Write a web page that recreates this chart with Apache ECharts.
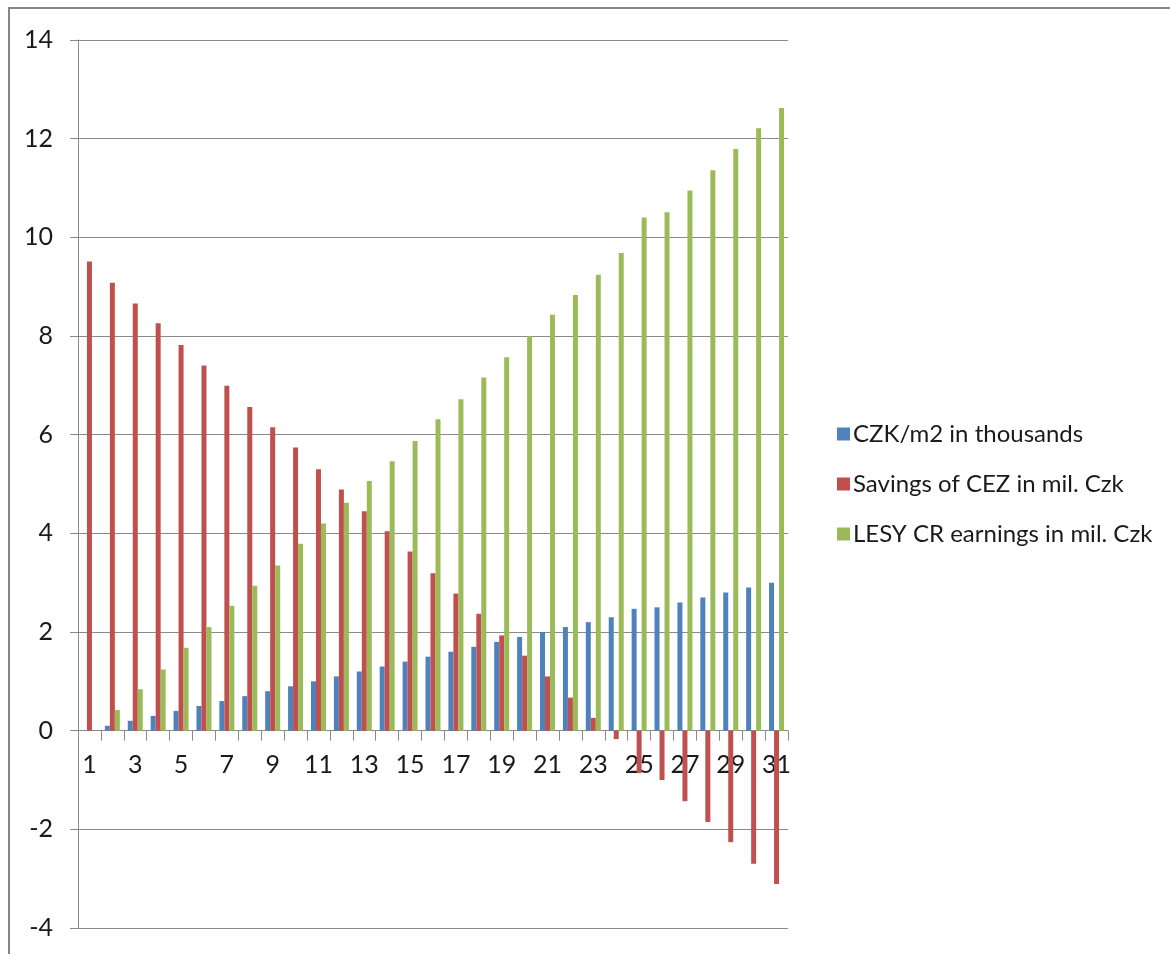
<!DOCTYPE html>
<html>
<head>
<meta charset="utf-8">
<script src="https://cdn.jsdelivr.net/npm/echarts@6/dist/echarts.min.js"></script>
<style>
  html, body { margin: 0; padding: 0; background: #fff; }
  #chart { width: 1170px; height: 954px; }
</style>
</head>
<body>
<div id="chart"></div>
<script>
// Categories 1..31
const categories = ['1','2','3','4','5','6','7','8','9','10','11','12','13','14','15','16','17','18','19','20','21','22','23','24','25','26','27','28','29','30','31'];

const seriesNames = ['CZK/m2 in thousands', 'Savings of CEZ in mil. Czk', 'LESY CR earnings in mil. Czk'];

const czkPerM2 = [0, 0.1, 0.2, 0.3, 0.4, 0.5, 0.6, 0.7, 0.8, 0.9, 1.0, 1.1, 1.2, 1.3, 1.4, 1.5,
  1.6, 1.7, 1.8, 1.9, 2.0, 2.1, 2.2, 2.3, 2.47, 2.5, 2.6, 2.7, 2.8, 2.9, 3.0];

const cezSavings = [9.51, 9.08, 8.66, 8.26, 7.82, 7.40, 6.99, 6.56, 6.15, 5.74, 5.30, 4.89, 4.45, 4.04,
  3.63, 3.19, 2.78, 2.37, 1.93, 1.52, 1.10, 0.67, 0.26, -0.17, -0.86, -1.00, -1.43, -1.85, -2.26, -2.70, -3.11];

const lesyEarnings = [0, 0.42, 0.84, 1.24, 1.68, 2.10, 2.53, 2.94, 3.35, 3.79, 4.20, 4.62, 5.06, 5.46,
  5.87, 6.31, 6.72, 7.16, 7.57, 8.00, 8.43, 8.83, 9.24, 9.68, 10.40, 10.51, 10.95, 11.36, 11.79, 12.21, 12.62];

const yMin = -4, yMax = 14, yStep = 2;

const colors = ['#4F81BD', '#C0504D', '#9BBB59'];
const FONT = 'Lato, "Open Sans", sans-serif';

const GRID_TOP = 40, GRID_BOTTOM = 26, CHART_H = 954;
// The category axis sits on the zero line: shift it up from the grid bottom by the
// height that the negative part of the value range takes.
const plotH = CHART_H - GRID_TOP - GRID_BOTTOM;
const zeroOffset = -plotH * (0 - yMin) / (yMax - yMin);

const chart = echarts.init(document.getElementById('chart'), null, { renderer: 'canvas' });

function barSeries(name, data, color) {
  return {
    name: name,
    type: 'bar',
    data: data,
    barWidth: 5,
    barGap: '0%',
    itemStyle: { color: color },
    z: 3
  };
}

chart.setOption({
  animation: false,
  backgroundColor: '#fff',
  color: colors,
  graphic: [{
    type: 'rect',
    shape: { x: 9, y: 8, width: 1300, height: 1100 },
    style: { fill: 'none', stroke: '#868686', lineWidth: 2 },
    silent: true,
    z: -1
  }],
  grid: { left: 78, right: 382, top: GRID_TOP, bottom: GRID_BOTTOM, containLabel: false, outerBoundsMode: 'none' },
  legend: {
    orient: 'vertical',
    left: 832,
    top: 417,
    itemWidth: 13,
    itemHeight: 13,
    itemGap: 26,
    icon: 'rect',
    data: seriesNames,
    textStyle: { fontFamily: FONT, fontSize: 24, color: '#1a1a1a', padding: [0, 0, 0, -2] }
  },
  xAxis: {
    type: 'category',
    position: 'bottom',
    offset: zeroOffset,
    data: categories,
    axisLine: { onZero: false, lineStyle: { color: '#8a8a8a', width: 1 } },
    axisTick: { show: true, interval: 0, alignWithLabel: false, length: 10, inside: false,
      lineStyle: { color: '#8a8a8a' } },
    axisLabel: { interval: 1, margin: 22, fontFamily: FONT, fontSize: 25, color: '#1a1a1a' },
    splitLine: { show: false }
  },
  yAxis: {
    type: 'value',
    min: yMin,
    max: yMax,
    interval: yStep,
    axisLine: { show: true, lineStyle: { color: '#8a8a8a', width: 1 } },
    axisTick: { show: true, length: 8, lineStyle: { color: '#8a8a8a' } },
    axisLabel: { margin: 25, fontFamily: FONT, fontSize: 25, color: '#1a1a1a' },
    splitLine: { show: true, lineStyle: { color: '#8a8a8a', width: 1 } }
  },
  series: [
    barSeries(seriesNames[0], czkPerM2, colors[0]),
    barSeries(seriesNames[1], cezSavings, colors[1]),
    barSeries(seriesNames[2], lesyEarnings, colors[2])
  ]
});
</script>
</body>
</html>
